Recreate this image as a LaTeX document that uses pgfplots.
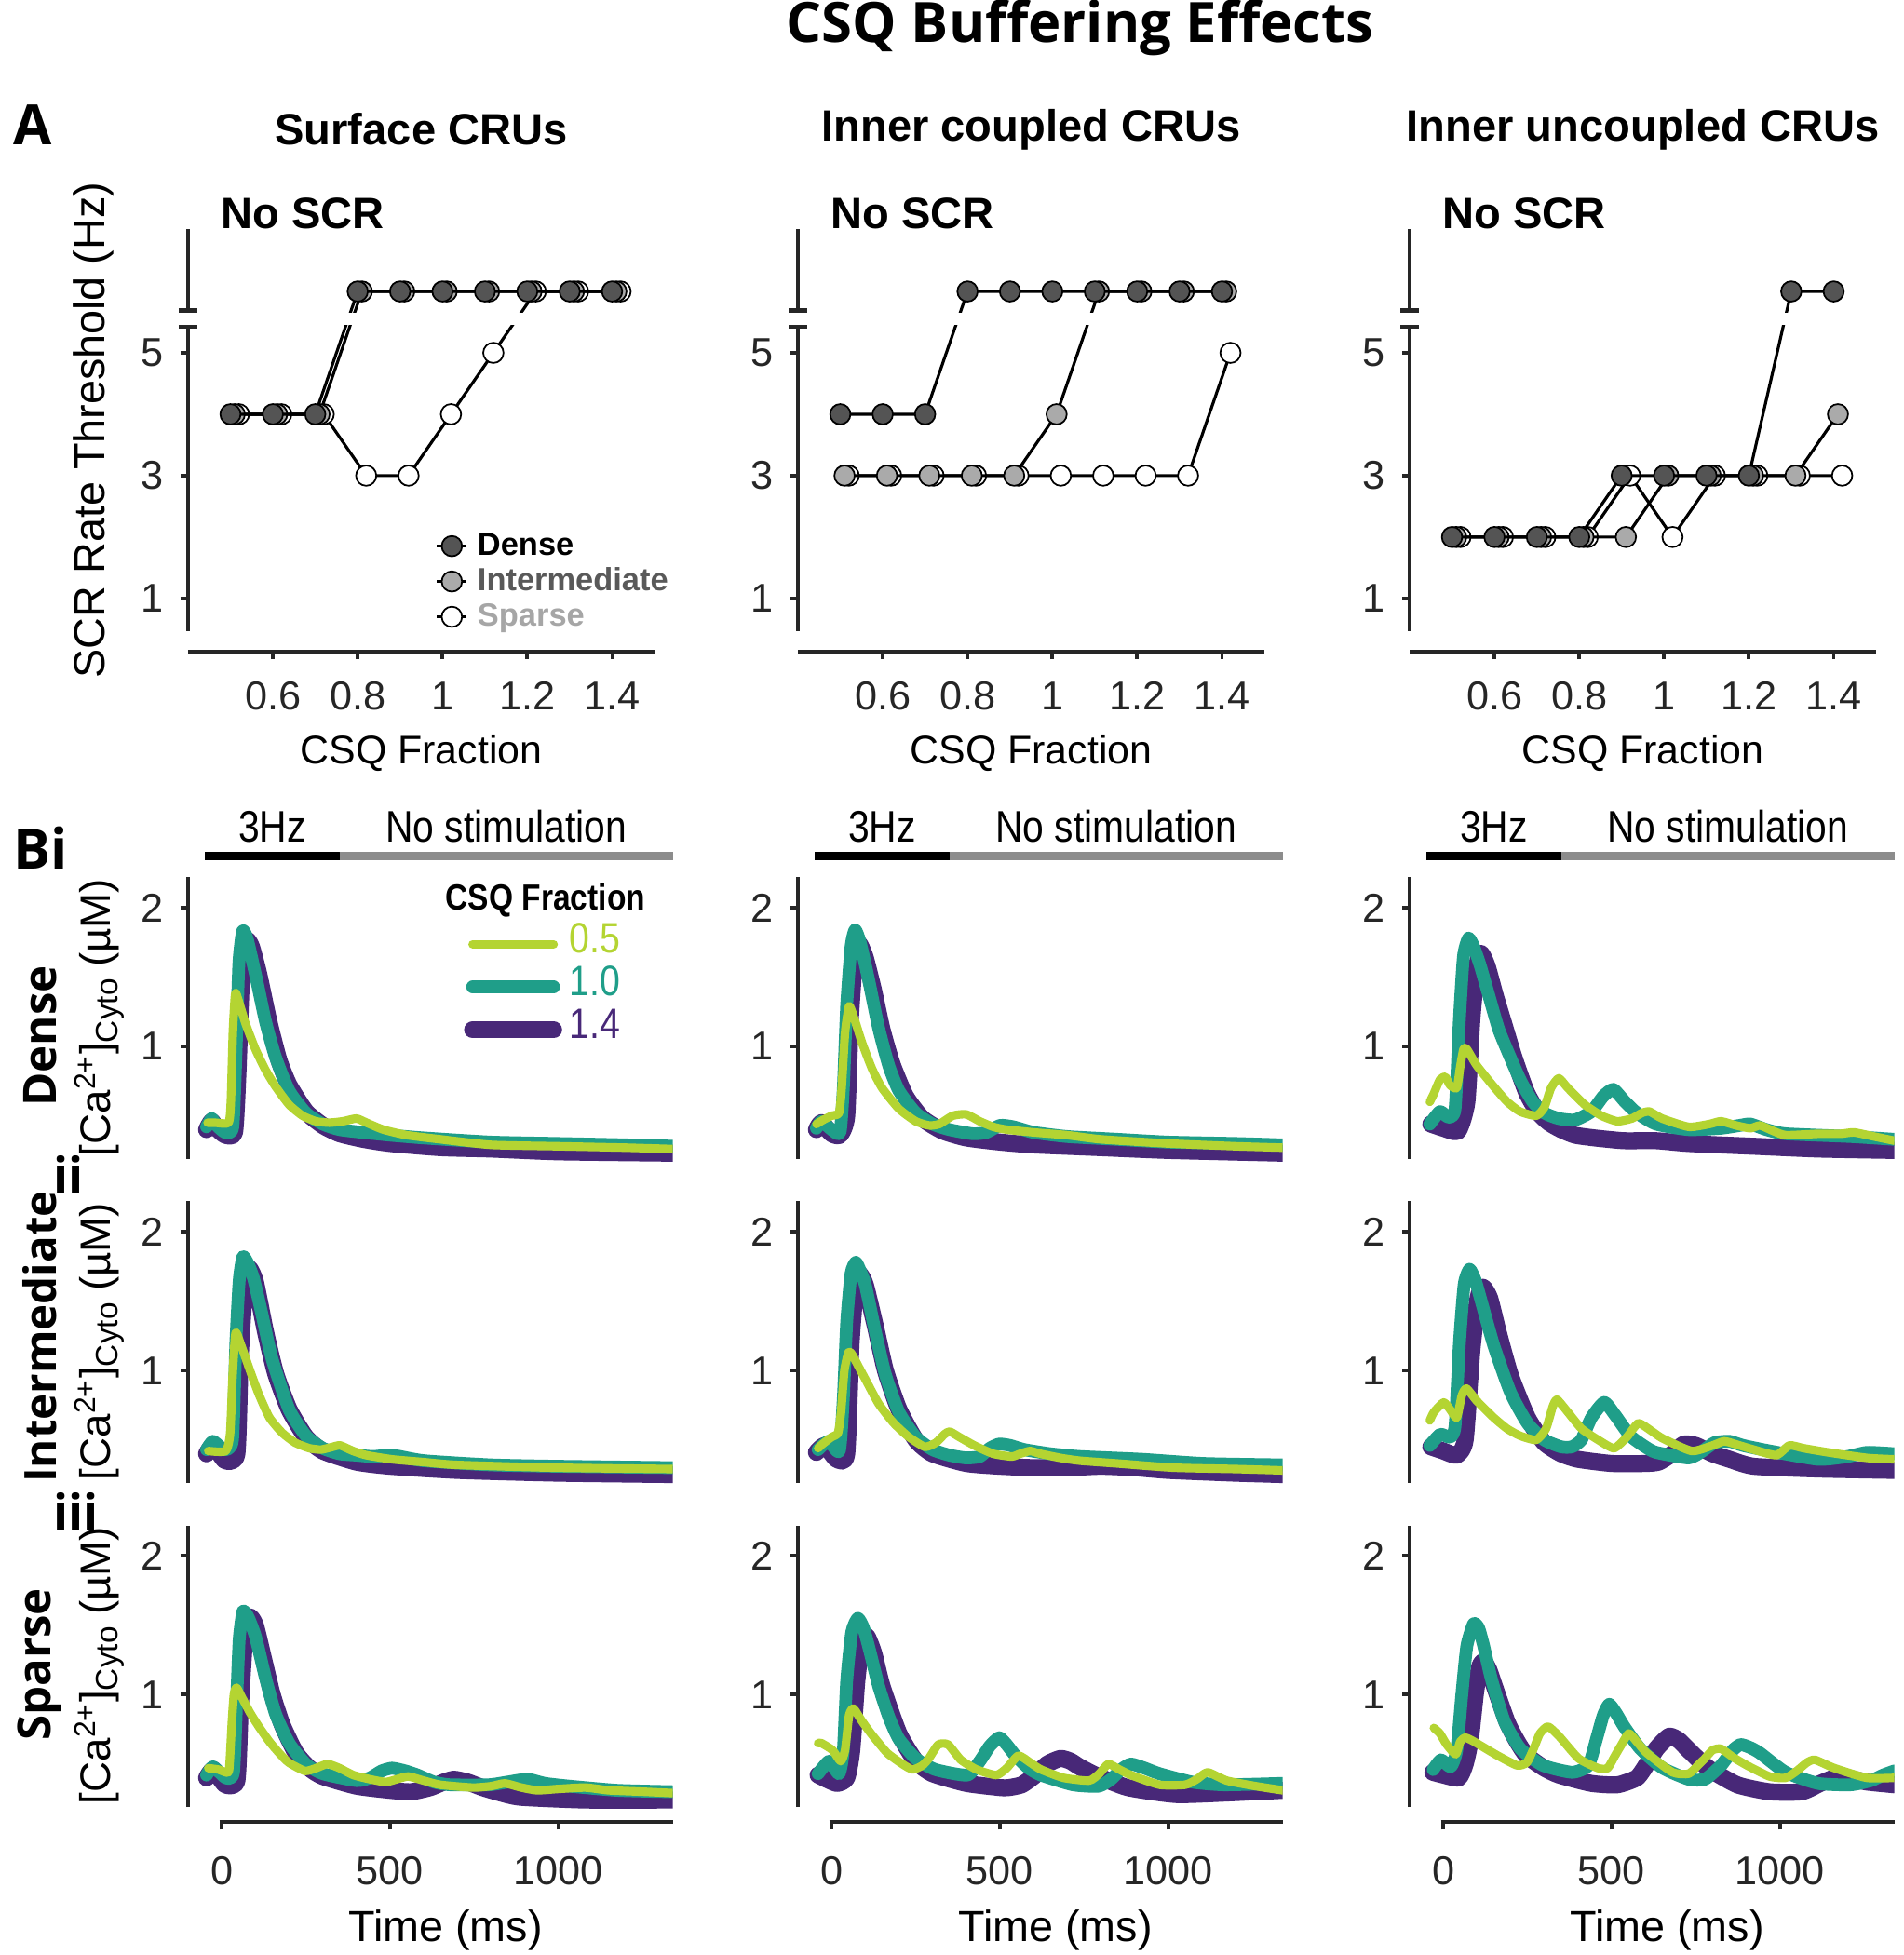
\documentclass[border=0pt]{standalone}
\usepackage{fontspec}
\setmainfont{Liberation Sans}
\newfontfamily\headfont{Open Sans}
\newfontfamily\narrowfont{Liberation Sans}[FakeStretch=0.86]
\usepackage{pgfplots}
\pgfplotsset{compat=1.18}

\definecolor{axgray}{RGB}{38,38,38}
\definecolor{c05}{RGB}{180,212,50}
\definecolor{c10}{RGB}{31,158,137}
\definecolor{c14}{RGB}{72,40,120}
\definecolor{dense}{RGB}{84,84,84}
\definecolor{inter}{RGB}{170,170,170}
\definecolor{bargray}{RGB}{140,140,140}
\definecolor{intertext}{RGB}{89,89,89}
\definecolor{sparsetext}{RGB}{166,166,166}
\newcommand\fs[1]{\fontsize{#1}{#1}\selectfont}

\tikzset{axl/.style={draw=axgray, line width=1.15pt}}
\pgfplotsset{
  base/.style={scale only axis, anchor=south west,
    axis x line*=bottom, axis y line*=left, axis line style={draw=none},
    tick align=outside, major tick length=0.08cm,
    tick style={draw=axgray, line width=1.1pt},
    ticklabel style={font=\fs{12.3}, text=axgray},
    scaled ticks=false, clip mode=individual,
    /pgf/number format/assume math mode=true,
    /pgf/number format/1000 sep={}},
  panelA/.style={base, width=5.01cm, height=4.544cm,
    xmin=0.4, xmax=1.5, ymin=0.13, ymax=7.02,
    xtick={0.6,0.8,1,1.2,1.4}, ytick={1,3,5},
    xticklabel style={yshift=-0.12cm}, yticklabel style={xshift=-0.06cm}},
  panelB/.style={base, width=5.207cm, height=3.189cm,
    xmin=-100, xmax=1340, ymin=0.08, ymax=2.22, ytick={1,2}, xtick=\empty,
    xticklabel style={yshift=-0.16cm}, yticklabel style={xshift=-0.06cm}},
  mk/.style={black, line width=0.9pt, mark=*, mark size=3.1pt},
  sdense/.style={mk, mark options={fill=dense, draw=black, line width=0.5pt}},
  sinter/.style={mk, mark options={fill=inter, draw=black, line width=0.5pt}},
  ssparse/.style={mk, mark options={fill=white, draw=black, line width=0.5pt}},
  tr/.style={smooth, tension=0.35, line join=round, line cap=round},
  t14/.style={tr, c14, line width=5.2pt},
  t10/.style={tr, c10, line width=3.9pt},
  t05/.style={tr, c05, line width=2.6pt},
}

% broken y axis and offset x axis of the threshold panels
\newcommand\Aaxes{%
  \fill[white] (axis cs:0.41,5.46) rectangle (axis cs:1.5,5.65);
  \draw[axl] (axis cs:0.4,0.47) -- (axis cs:0.4,5.43);
  \draw[axl] (axis cs:0.4,5.69) -- (axis cs:0.4,7.02);
  \draw[axl] ([xshift=-0.1cm]axis cs:0.4,5.43) -- ([xshift=0.1cm]axis cs:0.4,5.43);
  \draw[axl] ([xshift=-0.1cm]axis cs:0.4,5.69) -- ([xshift=0.1cm]axis cs:0.4,5.69);
  \draw[axl] (axis cs:0.4,0.13) -- (axis cs:1.5,0.13);
}
\newcommand\Byaxis{\draw[axl] (axis cs:-100,0.19) -- (axis cs:-100,2.22);}
\newcommand\Bbars{%
  \draw[black, line width=0.09cm] (axis cs:-50,2.37) -- (axis cs:350,2.37);
  \draw[bargray, line width=0.09cm] (axis cs:350,2.37) -- (axis cs:1340,2.37);
  \node[font=\narrowfont\fs{13.5}] at (axis cs:150,2.585) {3Hz};
  \node[font=\narrowfont\fs{13.5}] at (axis cs:845,2.585) {No stimulation};
}

\begin{document}
\begin{tikzpicture}
\useasboundingbox (0,0) rectangle (20.45,21.00);

% ---------------- A: SCR rate threshold ----------------
\begin{axis}[panelA, at={(2.02cm,13.998cm)},
  legend style={at={(axis cs:0.982,2.15)}, anchor=north west, draw=none, fill=none,
    font=\bfseries\fs{9.8}, inner sep=0pt, row sep=0pt,
    nodes={inner xsep=0.1cm, inner ysep=1pt, text height=7.3pt, text depth=1.5pt}},
  legend image code/.code={\draw[mark repeat=2, mark phase=2, #1] plot coordinates {(0cm,0cm) (0.16cm,0cm) (0.32cm,0cm)};},
  legend cell align=left, reverse legend]
\addplot[ssparse] coordinates {(0.52,4)(0.62,4)(0.72,4)(0.82,3)(0.92,3)(1.02,4)(1.12,5)(1.22,6)(1.32,6)(1.42,6)};
\addlegendentry{\textcolor{sparsetext}{Sparse}}
\addplot[sinter] coordinates {(0.51,4)(0.61,4)(0.71,4)(0.81,6)(0.91,6)(1.01,6)(1.11,6)(1.21,6)(1.31,6)(1.41,6)};
\addlegendentry{\textcolor{intertext}{Intermediate}}
\addplot[sdense] coordinates {(0.5,4)(0.6,4)(0.7,4)(0.8,6)(0.9,6)(1.0,6)(1.1,6)(1.2,6)(1.3,6)(1.4,6)};
\addlegendentry{Dense}
\Aaxes
\end{axis}

\begin{axis}[panelA, at={(8.57cm,13.998cm)}]
\addplot[ssparse] coordinates {(0.52,3)(0.62,3)(0.72,3)(0.82,3)(0.92,3)(1.02,3)(1.12,3)(1.22,3)(1.32,3)(1.42,5)};
\addplot[sinter] coordinates {(0.51,3)(0.61,3)(0.71,3)(0.81,3)(0.91,3)(1.01,4)(1.11,6)(1.21,6)(1.31,6)(1.41,6)};
\addplot[sdense] coordinates {(0.5,4)(0.6,4)(0.7,4)(0.8,6)(0.9,6)(1.0,6)(1.1,6)(1.2,6)(1.3,6)(1.4,6)};
\Aaxes
\end{axis}

\begin{axis}[panelA, at={(15.14cm,13.998cm)}]
\addplot[ssparse] coordinates {(0.52,2)(0.62,2)(0.72,2)(0.82,2)(0.92,3)(1.02,2)(1.12,3)(1.22,3)(1.32,3)(1.42,3)};
\addplot[sinter] coordinates {(0.51,2)(0.61,2)(0.71,2)(0.81,2)(0.91,2)(1.01,3)(1.11,3)(1.21,3)(1.31,3)(1.41,4)};
\addplot[sdense] coordinates {(0.5,2)(0.6,2)(0.7,2)(0.8,2)(0.9,3)(1.0,3)(1.1,3)(1.2,3)(1.3,6)(1.4,6)};
\Aaxes
\end{axis}

\node[font=\headfont\bfseries\fs{17}] at (11.60,20.70) {CSQ Buffering Effects};
\node[font=\headfont\bfseries\fs{17}, anchor=west] at (0.02,19.66) {A};
\node[font=\bfseries\fs{13.4}] at (4.525,19.61) {Surface CRUs};
\node[font=\bfseries\fs{13.4}] at (11.075,19.61) {Inner coupled CRUs};
\node[font=\bfseries\fs{13.4}] at (17.645,19.61) {Inner uncoupled CRUs};
\node[font=\bfseries\fs{13.4}, anchor=west] at (2.25,18.71) {No SCR};
\node[font=\bfseries\fs{13.4}, anchor=west] at (8.80,18.71) {No SCR};
\node[font=\bfseries\fs{13.4}, anchor=west] at (15.37,18.71) {No SCR};
\node[font=\fs{12.2}] at (4.525,12.91) {CSQ Fraction};
\node[font=\fs{12.2}] at (11.075,12.91) {CSQ Fraction};
\node[font=\fs{12.2}] at (17.645,12.91) {CSQ Fraction};
\node[font=\fs{13.3}, rotate=90] at (1.00,16.38) {SCR Rate Threshold (Hz)};

% ---------------- B: calcium transients ----------------
% row i (Dense)
\begin{axis}[panelB, at={(2.02cm,8.389cm)},
  legend style={at={(axis cs:718,2.205)}, anchor=north west, draw=none, fill=none,
    font=\narrowfont\fs{13}, inner sep=0pt, row sep=0pt,
    nodes={inner xsep=0.08cm, inner ysep=0pt, text height=9.3pt, text depth=3.8pt}},
  legend image code/.code={\draw[#1] (0cm,0cm) -- (0.87cm,0cm);},
  legend cell align=left, reverse legend]
\addplot[t14] coordinates {(-45,0.40)(-30,0.46)(-15,0.41)(10,0.36)(38,0.38)(48,0.8)(58,1.45)(72,1.76)(88,1.72)(110,1.52)(140,1.18)(170,0.90)(200,0.72)(250,0.53)(300,0.43)(350,0.37)(420,0.33)(500,0.30)(650,0.27)(800,0.26)(1000,0.24)(1340,0.23)};
\addlegendentry{\textcolor{c14}{1.4}}
\addplot[t10] coordinates {(-45,0.42)(-30,0.48)(-15,0.43)(10,0.38)(33,0.42)(43,1.0)(51,1.6)(62,1.83)(75,1.78)(100,1.52)(130,1.18)(160,0.92)(200,0.68)(250,0.52)(300,0.44)(350,0.40)(420,0.38)(500,0.36)(600,0.34)(800,0.31)(1000,0.30)(1200,0.29)(1340,0.28)};
\addlegendentry{\textcolor{c10}{1.0}}
\addplot[t05] coordinates {(-42,0.45)(-20,0.45)(20,0.45)(27,0.6)(33,1.1)(40,1.38)(50,1.33)(70,1.17)(100,0.98)(130,0.83)(160,0.71)(200,0.58)(240,0.50)(280,0.46)(320,0.45)(360,0.46)(400,0.48)(430,0.45)(480,0.40)(550,0.36)(650,0.33)(800,0.29)(1000,0.28)(1200,0.27)(1340,0.26)};
\addlegendentry{\textcolor{c05}{0.5}}
\addlegendimage{empty legend}
\addlegendentry{\hspace*{-1.33cm}\fs{11.1}\textbf{CSQ Fraction}}
\Byaxis \Bbars
\end{axis}

\begin{axis}[panelB, at={(8.57cm,8.389cm)}]
\addplot[t14] coordinates {(-45,0.40)(-30,0.45)(0,0.37)(25,0.36)(45,0.5)(56,1.2)(70,1.68)(82,1.74)(100,1.64)(125,1.40)(150,1.12)(180,0.87)(220,0.64)(270,0.48)(330,0.39)(400,0.34)(500,0.31)(600,0.29)(800,0.27)(1000,0.25)(1340,0.23)};
\addplot[t10] coordinates {(-45,0.41)(-30,0.46)(0,0.40)(25,0.38)(35,0.7)(45,1.3)(58,1.72)(70,1.84)(85,1.75)(110,1.48)(140,1.13)(170,0.86)(200,0.68)(250,0.52)(300,0.44)(350,0.40)(420,0.37)(460,0.38)(500,0.43)(540,0.42)(600,0.38)(700,0.35)(850,0.33)(1000,0.31)(1200,0.30)(1340,0.29)};
\addplot[t05] coordinates {(-45,0.44)(-25,0.47)(0,0.50)(22,0.52)(30,0.7)(40,1.1)(52,1.29)(65,1.22)(90,1.03)(120,0.84)(150,0.70)(200,0.55)(250,0.46)(290,0.43)(320,0.44)(360,0.50)(400,0.51)(440,0.46)(480,0.42)(520,0.40)(600,0.38)(700,0.36)(800,0.33)(1000,0.30)(1200,0.28)(1340,0.27)};
\Byaxis \Bbars
\end{axis}

\begin{axis}[panelB, at={(15.14cm,8.389cm)}]
\addplot[t14] coordinates {(-37,0.44)(0,0.41)(44,0.39)(70,0.6)(85,1.2)(100,1.58)(112,1.67)(130,1.58)(155,1.36)(180,1.16)(210,0.92)(247,0.67)(280,0.53)(314,0.45)(350,0.40)(391,0.36)(450,0.34)(536,0.32)(632,0.32)(729,0.30)(922,0.28)(1114,0.26)(1340,0.25)};
\addplot[t10] coordinates {(-40,0.44)(-10,0.53)(15,0.49)(35,0.55)(48,1.2)(60,1.65)(75,1.78)(90,1.72)(110,1.58)(136,1.36)(165,1.12)(199,0.92)(230,0.75)(266,0.60)(300,0.52)(343,0.48)(391,0.47)(440,0.53)(475,0.64)(505,0.69)(540,0.60)(575,0.52)(632,0.44)(729,0.40)(825,0.41)(880,0.43)(912,0.44)(960,0.40)(1018,0.37)(1211,0.35)(1340,0.33)};
\addplot[t05] coordinates {(-40,0.60)(-28,0.66)(-10,0.76)(6,0.78)(20,0.72)(40,0.70)(50,0.85)(60,0.98)(70,0.98)(100,0.86)(150,0.71)(190,0.60)(228,0.53)(276,0.50)(300,0.56)(320,0.70)(343,0.77)(370,0.70)(420,0.58)(470,0.50)(517,0.46)(560,0.48)(590,0.52)(613,0.53)(650,0.48)(729,0.42)(790,0.44)(825,0.46)(870,0.43)(912,0.41)(941,0.43)(980,0.39)(1018,0.36)(1114,0.37)(1180,0.37)(1220,0.38)(1280,0.35)(1340,0.32)};
\Byaxis \Bbars
\end{axis}

% row ii (Intermediate)
\begin{axis}[panelB, at={(2.02cm,4.907cm)}]
\addplot[t14] coordinates {(-45,0.40)(-25,0.46)(10,0.35)(45,0.40)(55,1.1)(68,1.6)(80,1.74)(100,1.64)(130,1.28)(160,0.98)(200,0.72)(250,0.52)(300,0.42)(400,0.34)(500,0.31)(700,0.28)(1000,0.26)(1340,0.25)};
\addplot[t10] coordinates {(-45,0.43)(-26,0.49)(8,0.43)(32,0.5)(42,1.2)(52,1.65)(63,1.82)(78,1.77)(95,1.66)(120,1.40)(150,1.08)(200,0.72)(250,0.53)(300,0.44)(350,0.40)(400,0.39)(450,0.38)(506,0.39)(600,0.35)(800,0.32)(1000,0.31)(1340,0.30)};
\addplot[t05] coordinates {(-40,0.42)(12,0.42)(25,0.55)(32,0.95)(41,1.27)(55,1.2)(84,1.0)(110,0.83)(142,0.66)(180,0.55)(218,0.48)(260,0.44)(295,0.43)(330,0.45)(352,0.46)(390,0.42)(429,0.39)(506,0.36)(600,0.34)(697,0.32)(985,0.30)(1340,0.29)};
\Byaxis
\end{axis}

\begin{axis}[panelB, at={(8.57cm,4.907cm)}]
\addplot[t14] coordinates {(-45,0.41)(-20,0.46)(15,0.36)(45,0.40)(58,1.2)(72,1.62)(82,1.70)(100,1.62)(130,1.32)(160,1.0)(200,0.72)(250,0.50)(300,0.40)(400,0.33)(500,0.31)(600,0.30)(700,0.30)(800,0.31)(900,0.30)(1000,0.28)(1200,0.26)(1340,0.25)};
\addplot[t10] coordinates {(-40,0.43)(-9,0.49)(23,0.42)(35,0.8)(45,1.35)(58,1.7)(72,1.78)(85,1.72)(100,1.62)(130,1.28)(160,0.97)(200,0.70)(250,0.52)(300,0.43)(350,0.39)(400,0.37)(440,0.38)(470,0.44)(498,0.47)(530,0.46)(572,0.43)(650,0.40)(738,0.38)(922,0.36)(1106,0.33)(1340,0.32)};
\addplot[t05] coordinates {(-40,0.44)(-27,0.47)(0,0.52)(19,0.55)(28,0.7)(38,1.0)(50,1.13)(60,1.12)(80,1.03)(102,0.93)(140,0.76)(185,0.62)(230,0.52)(277,0.45)(310,0.48)(335,0.54)(351,0.56)(380,0.52)(424,0.46)(480,0.40)(535,0.38)(560,0.40)(590,0.42)(620,0.40)(680,0.37)(738,0.35)(850,0.33)(1014,0.30)(1200,0.29)(1340,0.28)};
\Byaxis
\end{axis}

\begin{axis}[panelB, at={(15.14cm,4.907cm)}]
\addplot[t14] coordinates {(-37,0.45)(0,0.42)(40,0.39)(65,0.5)(85,1.15)(103,1.52)(118,1.60)(138,1.52)(165,1.26)(200,0.96)(250,0.66)(300,0.48)(350,0.40)(400,0.36)(500,0.33)(600,0.33)(640,0.34)(680,0.40)(715,0.47)(750,0.46)(800,0.40)(850,0.36)(922,0.31)(1114,0.29)(1340,0.28)};
\addplot[t10] coordinates {(-40,0.46)(-9,0.54)(20,0.52)(35,0.6)(48,1.2)(62,1.62)(78,1.73)(95,1.65)(115,1.48)(150,1.18)(200,0.84)(250,0.62)(300,0.50)(350,0.45)(382,0.45)(410,0.50)(440,0.66)(478,0.77)(510,0.68)(555,0.53)(600,0.45)(632,0.41)(729,0.37)(770,0.42)(806,0.48)(850,0.49)(890,0.46)(970,0.42)(1114,0.36)(1200,0.38)(1259,0.41)(1340,0.40)};
\addplot[t05] coordinates {(-40,0.64)(-28,0.70)(1,0.77)(20,0.72)(40,0.66)(55,0.82)(69,0.87)(100,0.78)(150,0.66)(190,0.58)(228,0.53)(276,0.50)(305,0.58)(325,0.74)(338,0.79)(370,0.70)(411,0.58)(460,0.50)(507,0.44)(545,0.52)(579,0.62)(615,0.57)(652,0.51)(738,0.42)(800,0.46)(835,0.49)(880,0.46)(922,0.43)(989,0.39)(1028,0.46)(1070,0.44)(1143,0.41)(1259,0.37)(1340,0.36)};
\Byaxis
\end{axis}

% row iii (Sparse)
\begin{axis}[panelB, at={(2.02cm,1.426cm)}, xtick={0,500,1000}]
\addplot[t14] coordinates {(-45,0.40)(-25,0.46)(10,0.35)(45,0.38)(55,0.9)(68,1.4)(82,1.56)(100,1.50)(125,1.25)(150,1.0)(180,0.78)(220,0.58)(260,0.47)(300,0.41)(400,0.34)(500,0.31)(563,0.30)(620,0.33)(660,0.37)(690,0.39)(730,0.37)(774,0.33)(830,0.29)(889,0.26)(1080,0.24)(1340,0.24)};
\addplot[t10] coordinates {(-45,0.42)(-26,0.48)(12,0.40)(35,0.44)(45,1.0)(52,1.4)(63,1.6)(78,1.56)(100,1.42)(130,1.12)(160,0.86)(200,0.65)(250,0.50)(300,0.43)(400,0.38)(440,0.40)(475,0.45)(506,0.47)(545,0.45)(582,0.42)(630,0.37)(678,0.35)(793,0.35)(850,0.37)(908,0.39)(960,0.36)(1033,0.34)(1176,0.31)(1340,0.30)};
\addplot[t05] coordinates {(-40,0.47)(-10,0.46)(12,0.44)(22,0.46)(30,0.8)(36,1.0)(44,1.05)(60,0.98)(84,0.87)(110,0.77)(142,0.66)(170,0.58)(199,0.51)(247,0.45)(280,0.47)(314,0.50)(350,0.47)(391,0.42)(440,0.39)(487,0.37)(520,0.39)(554,0.41)(600,0.38)(649,0.35)(745,0.33)(800,0.34)(841,0.36)(890,0.33)(937,0.31)(1000,0.32)(1080,0.33)(1150,0.31)(1250,0.30)(1340,0.29)};
\Byaxis
\draw[axl] (axis cs:-7,0.08) -- (axis cs:1340,0.08);
\end{axis}

\begin{axis}[panelB, at={(8.57cm,1.426cm)}, xtick={0,500,1000}]
\addplot[t14] coordinates {(-40,0.42)(15,0.36)(45,0.40)(60,0.6)(75,1.1)(90,1.38)(105,1.42)(125,1.30)(150,1.06)(200,0.72)(250,0.52)(300,0.43)(400,0.36)(500,0.33)(527,0.33)(565,0.35)(600,0.41)(641,0.50)(680,0.54)(710,0.52)(736,0.48)(784,0.42)(879,0.33)(1022,0.28)(1165,0.29)(1340,0.31)};
\addplot[t10] coordinates {(-40,0.43)(-7,0.52)(22,0.43)(35,0.6)(45,1.1)(60,1.45)(78,1.55)(95,1.48)(115,1.30)(140,1.06)(170,0.84)(200,0.68)(250,0.54)(308,0.46)(403,0.42)(440,0.52)(470,0.63)(498,0.69)(520,0.64)(546,0.56)(585,0.47)(622,0.42)(717,0.35)(793,0.34)(830,0.39)(860,0.46)(889,0.50)(930,0.47)(974,0.43)(1070,0.37)(1165,0.35)(1340,0.36)};
\addplot[t05] coordinates {(-40,0.65)(-30,0.65)(3,0.60)(27,0.52)(40,0.6)(52,0.85)(65,0.90)(90,0.81)(117,0.72)(165,0.58)(210,0.50)(241,0.46)(270,0.49)(289,0.54)(317,0.64)(346,0.64)(384,0.53)(431,0.46)(489,0.42)(520,0.47)(555,0.56)(590,0.51)(622,0.46)(689,0.40)(765,0.38)(795,0.43)(822,0.50)(855,0.46)(889,0.42)(974,0.35)(1050,0.35)(1085,0.39)(1117,0.44)(1174,0.38)(1260,0.34)(1340,0.31)};
\Byaxis
\draw[axl] (axis cs:-7,0.08) -- (axis cs:1340,0.08);
\end{axis}

\begin{axis}[panelB, at={(15.14cm,1.426cm)}, xtick={0,500,1000}]
\addplot[t14] coordinates {(-31,0.44)(0,0.42)(46,0.40)(65,0.5)(80,0.67)(95,1.0)(108,1.2)(120,1.24)(135,1.18)(152,1.06)(190,0.80)(220,0.66)(248,0.56)(300,0.47)(344,0.42)(440,0.36)(517,0.35)(575,0.40)(605,0.50)(633,0.61)(671,0.70)(700,0.67)(729,0.60)(787,0.47)(873,0.35)(969,0.30)(1065,0.30)(1120,0.36)(1162,0.40)(1200,0.40)(1258,0.37)(1340,0.35)};
\addplot[t10] coordinates {(-30,0.46)(-7,0.53)(22,0.48)(40,0.6)(55,1.0)(70,1.35)(90,1.51)(105,1.48)(120,1.35)(142,1.12)(181,0.81)(229,0.61)(296,0.49)(383,0.44)(431,0.49)(455,0.68)(475,0.85)(493,0.93)(515,0.86)(537,0.77)(585,0.61)(652,0.47)(729,0.39)(777,0.39)(825,0.49)(860,0.60)(883,0.64)(910,0.62)(940,0.58)(1017,0.44)(1113,0.36)(1210,0.35)(1270,0.38)(1306,0.42)(1340,0.45)};
\addplot[t05] coordinates {(-28,0.76)(-10,0.72)(10,0.64)(37,0.57)(50,0.66)(65,0.69)(85,0.67)(113,0.63)(162,0.56)(219,0.49)(248,0.51)(270,0.62)(287,0.72)(311,0.77)(344,0.70)(402,0.54)(460,0.47)(488,0.47)(510,0.56)(527,0.63)(551,0.72)(575,0.66)(604,0.58)(681,0.44)(729,0.43)(760,0.50)(777,0.54)(800,0.60)(825,0.61)(860,0.55)(902,0.49)(969,0.41)(1017,0.40)(1050,0.45)(1080,0.51)(1104,0.53)(1162,0.47)(1258,0.40)(1340,0.40)};
\Byaxis
\draw[axl] (axis cs:-7,0.08) -- (axis cs:1340,0.08);
\end{axis}

\node[font=\headfont\bfseries\fs{17}, anchor=west] at (0.02,11.89) {Bi};
\node[font=\headfont\bfseries\fs{15}, anchor=west] at (0.45,8.385) {ii};
\node[font=\headfont\bfseries\fs{15}, anchor=west] at (0.45,4.77) {iii};
\node[font=\headfont\bfseries\fs{14}, rotate=90] at (0.43,9.87) {Dense};
\node[font=\headfont\bfseries\fs{13.5}, rotate=90] at (0.43,6.64) {Intermediate};
\node[font=\headfont\bfseries\fs{14}, rotate=90] at (0.43,3.12) {Sparse};
\node[font=\fs{13}, rotate=90] at (1.07,10.07) {[Ca\textsuperscript{2+}]\raisebox{-0.35ex}{\fs{9.5}Cyto} (µM)};
\node[font=\fs{13}, rotate=90] at (1.07,6.59) {[Ca\textsuperscript{2+}]\raisebox{-0.35ex}{\fs{9.5}Cyto} (µM)};
\node[font=\fs{13}, rotate=90] at (1.07,3.11) {[Ca\textsuperscript{2+}]\raisebox{-0.35ex}{\fs{9.5}Cyto} (µM)};
\node[font=\fs{13.3}] at (4.786,0.27) {Time (ms)};
\node[font=\fs{13.3}] at (11.336,0.27) {Time (ms)};
\node[font=\fs{13.3}] at (17.906,0.27) {Time (ms)};
\end{tikzpicture}
\end{document}
